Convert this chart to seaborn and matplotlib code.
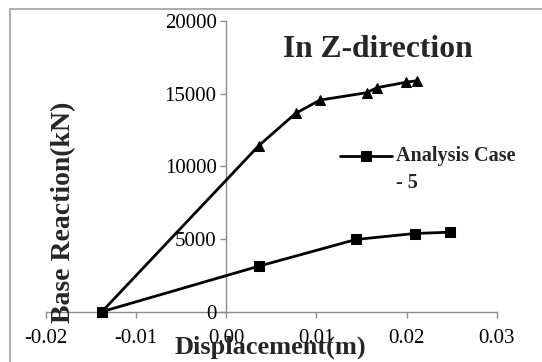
import matplotlib
matplotlib.use('Agg')
import matplotlib.pyplot as plt
import seaborn as sns
import pandas as pd
import numpy as np
from matplotlib.patches import Rectangle

# ---- data ----
tri_x = [-0.0138, 0.0036, 0.0077, 0.0104, 0.0156, 0.0167, 0.0199, 0.0212]
tri_y = [0, 11420, 13650, 14560, 15070, 15410, 15780, 15900]
sq_x = [-0.0138, 0.0036, 0.0144, 0.0209, 0.0248]
sq_y = [0, 3130, 4970, 5380, 5470]
x_ticks = [-0.02, -0.01, 0.00, 0.01, 0.02, 0.03]
x_tick_labels = ['-0.02', '-0.01', '0.00', '0.01', '0.02', '0.03']
y_ticks = [0, 5000, 10000, 15000, 20000]
y_tick_labels = ['0', '5000', '10000', '15000', '20000']
title = 'In Z-direction'
x_label = 'Displacement(m)'
y_label = 'Base Reaction(kN)'
legend_label = 'Analysis Case\n- 5'

sns.set_theme(style='white')
plt.rcParams['font.family'] = ['Liberation Serif', 'DejaVu Serif']

W, H = 542, 362
fig = plt.figure(figsize=(W / 100, H / 100), dpi=100)
L, R, T, B = 46, 496.7, 21, 311.7
ax = fig.add_axes([L / W, 1 - B / H, (R - L) / W, (B - T) / H])
ax.set_facecolor('none')

df_tri = pd.DataFrame({'x': tri_x, 'y': tri_y})
df_sq = pd.DataFrame({'x': sq_x, 'y': sq_y})

sns.lineplot(data=df_tri, x='x', y='y', sort=False, color='black', lw=2,
             marker='^', markersize=7, markeredgecolor='black', ax=ax,
             clip_on=False)
sns.lineplot(data=df_sq, x='x', y='y', sort=False, color='black', lw=2,
             marker='s', markersize=6.5, markeredgecolor='black', ax=ax,
             label=legend_label, clip_on=False)

ax.set_xlim(-0.02, 0.03)
ax.set_ylim(0, 20000)
ax.set_xticks(x_ticks)
ax.set_xticklabels(x_tick_labels)
ax.set_yticks(y_ticks)
ax.set_yticklabels(y_tick_labels)

for s in ['top', 'right']:
    ax.spines[s].set_visible(False)
ax.spines['left'].set_position(('data', 0))
for s in ['left', 'bottom']:
    ax.spines[s].set_color('#8c8c8c')
    ax.spines[s].set_linewidth(1)
    ax.spines[s].set_zorder(0.5)

ax.tick_params(axis='both', bottom=True, left=True, direction='out', length=4.5,
               width=1, color='#8c8c8c', labelsize=15, labelcolor='black')
ax.tick_params(axis='x', pad=8)
ax.tick_params(axis='y', pad=2.5)

ax.set_xlabel(x_label, fontsize=19, fontweight='bold', va='center')
ax.xaxis.set_label_coords((270 - L) / (R - L), (B - 347) / (B - T))
ax.set_ylabel(y_label, fontsize=20, fontweight='bold', va='center')
ax.yaxis.set_label_coords((64 - L) / (R - L), (B - 212) / (B - T))

ax.set_title(title, fontsize=22.7, fontweight='bold', pad=0,
             x=(378 - L) / (R - L), y=(B - 56.7) / (B - T), va='baseline')

handles, labels = ax.get_legend_handles_labels()
leg = ax.legend(handles, labels, loc='upper left',
                bbox_to_anchor=(340 / W, 1 - 146 / H), bbox_transform=fig.transFigure,
                frameon=False, borderpad=0, borderaxespad=0,
                handlelength=2.6, handletextpad=0.17,
                prop={'size': 14.5, 'weight': 'bold'})
for t in leg.get_texts():
    t.set_linespacing(1.45)
# align the legend key with the first line of its label, as in the reference
for h in leg.legend_handles:
    yd = np.asarray(h.get_ydata(), dtype=float)
    h.set_ydata(yd + 10)

fig.patches.append(Rectangle((9.5 / W, -0.1), 1.2, (1 - 9.5 / H) + 0.1,
                             transform=fig.transFigure, fill=False,
                             edgecolor='#a6a6a6', lw=1.3))

fig.savefig('out.png', dpi=100)
